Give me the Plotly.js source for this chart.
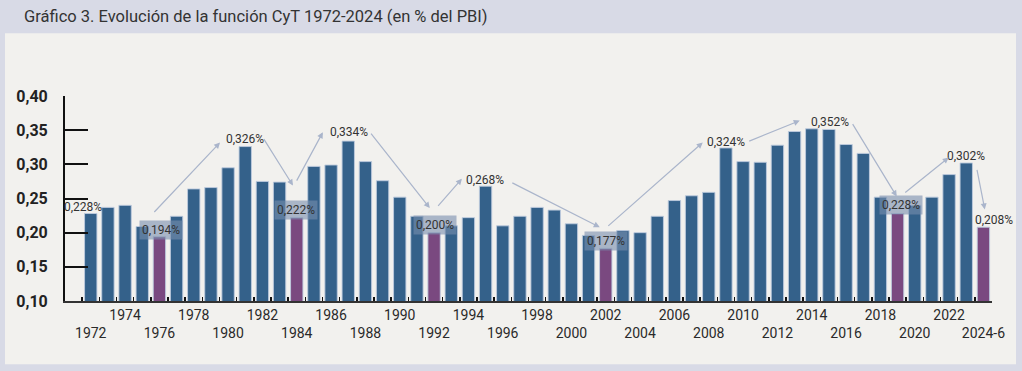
<!DOCTYPE html>
<html>
<head>
<meta charset="utf-8">
<script src="https://cdn.plot.ly/plotly-3.0.1.min.js"></script>
<style>
  html, body { margin: 0; padding: 0; background: #d8dae6; }
  #chart { width: 1022px; height: 371px; }
</style>
</head>
<body>
<div id="chart"></div>
<script>
// ---- data ----
const categories = ["1972","1973","1974","1975","1976","1977","1978","1979","1980","1981",
  "1982","1983","1984","1985","1986","1987","1988","1989","1990","1991",
  "1992","1993","1994","1995","1996","1997","1998","1999","2000","2001",
  "2002","2003","2004","2005","2006","2007","2008","2009","2010","2011",
  "2012","2013","2014","2015","2016","2017","2018","2019","2020","2021",
  "2022","2023","2024-6"];
const values = [0.228,0.237,0.240,0.209,0.194,0.224,0.264,0.266,0.295,0.326,
  0.275,0.274,0.222,0.297,0.299,0.334,0.304,0.276,0.252,0.224,
  0.200,0.210,0.222,0.268,0.210,0.224,0.237,0.233,0.213,0.196,
  0.177,0.203,0.200,0.224,0.247,0.254,0.259,0.324,0.304,0.303,
  0.328,0.348,0.352,0.351,0.329,0.316,0.252,0.228,0.240,0.252,
  0.285,0.302,0.208];
const highlighted = ["1976","1984","1992","2002","2019","2024-6"];
const labelled = ["1972","1976","1981","1984","1987","1992","1995","2002","2009","2014","2019","2023","2024-6"];
const boxedLabels = ["1976","1984","1992","2002","2019"];
const tickLabelYears = ["1972","1974","1976","1978","1980","1982","1984","1986","1988","1990",
  "1992","1994","1996","1998","2000","2002","2004","2006","2008","2010",
  "2012","2014","2016","2018","2020","2022","2024-6"];
const titleText = "Gráfico 3. Evolución de la función CyT 1972-2024 (en % del PBI)";

// ---- placement (annotation positions: [axis x, axis y, pixel x-shift]) ----
const labelPos = [[-0.48,0.2370,0],[4.09,0.2041,0],[8.98,0.3371,0],[11.98,0.2326,0],[15.04,0.3466,0],
  [20.05,0.2114,0],[22.96,0.2765,0],[30.03,0.1880,0],[36.99,0.3320,0],[43.05,0.3613,0],
  [47.18,0.2400,0],[50.97,0.3115,0],[52.0,0.2180,10.5]];
const arrowPos = [
  [[3.62,0.228],[7.53,0.332]],
  [[10.03,0.339],[11.78,0.269]],
  [[11.95,0.274],[13.52,0.347]],
  [[16.26,0.347],[19.75,0.236]],
  [[20.16,0.237],[21.62,0.279]],
  [[24.47,0.274],[29.65,0.208]],
  [[30.06,0.208],[35.65,0.332]],
  [[38.27,0.333],[41.30,0.364]],
  [[44.33,0.361],[46.95,0.253]],
  [[47.36,0.257],[49.98,0.310]],
  [[51.61,0.294],[52.08,0.234]]
];

const FONT = "Roboto, 'Noto Sans', sans-serif";
const BLUE = "#34618a", PURPLE = "#7a4980";
const M = {l: 65, r: 30, t: 96, b: 70};
const W = 1022, H = 371;
const pw = W - M.l - M.r, ph = H - M.t - M.b;
const px2x = p => (p - M.l) / pw;
const py2y = p => (H - M.b - p) / ph;

const colors = categories.map(c => highlighted.includes(c) ? PURPLE : BLUE);

const ticktext = categories.map((c, i) => {
  if (!tickLabelYears.includes(c)) return "";
  const k = tickLabelYears.indexOf(c);
  return (k % 2 === 0) ? "&nbsp;<br>" + c : c;
});

const fmt = v => v.toFixed(3).replace(".", ",") + "%";

const annotations = [];
labelled.forEach((c, k) => {
  const i = categories.indexOf(c);
  const boxed = boxedLabels.includes(c);
  annotations.push({
    x: labelPos[k][0], y: labelPos[k][1], xref: "x", yref: "y", xshift: labelPos[k][2],
    text: fmt(values[i]), showarrow: false,
    xanchor: "center", yanchor: "middle",
    font: {family: FONT, size: 12, color: "#333333"},
    bgcolor: boxed ? "rgba(120,141,173,0.6)" : "rgba(0,0,0,0)",
    borderpad: boxed ? 2 : 0
  });
});
arrowPos.forEach(a => {
  annotations.push({
    x: a[1][0], y: a[1][1], xref: "x", yref: "y",
    ax: a[0][0], ay: a[0][1], axref: "x", ayref: "y",
    text: "", showarrow: true, arrowhead: 2, arrowsize: 1, arrowwidth: 1.2,
    arrowcolor: "#aab5cb", standoff: 0, startstandoff: 0
  });
});

const shapes = [{
  type: "rect", xref: "paper", yref: "paper", layer: "below",
  x0: px2x(5), x1: px2x(1016), y0: py2y(364.3), y1: py2y(33.3),
  fillcolor: "#f2f1ee", line: {width: 0}
}];

const trace = {
  type: "bar", x: categories, y: values,
  marker: {color: colors, line: {color: "rgba(190,203,222,0.9)", width: 1}},
  hoverinfo: "x+y"
};

const layout = {
  width: W, height: H,
  margin: M,
  paper_bgcolor: "#d8dae6",
  plot_bgcolor: "rgba(0,0,0,0)",
  separators: ",.",
  showlegend: false,
  bargap: 0.28,
  font: {family: FONT, color: "#333333"},
  title: {
    text: titleText, xref: "container", yref: "container",
    x: 24 / W, xanchor: "left", y: 1 - 16 / H, yanchor: "middle",
    font: {family: FONT, size: 16.5, color: "#333333"}
  },
  xaxis: {
    type: "category", range: [-1.5, 52.5],
    tickmode: "array", tickvals: categories, ticktext: ticktext,
    tickson: "boundaries", ticks: "inside", ticklen: 4, tickwidth: 1.5, tickcolor: "#111",
    showline: true, linecolor: "#333333", linewidth: 2,
    showgrid: false, zeroline: false, tickangle: 0,
    tickfont: {family: FONT, size: 14, color: "#2a2a2a"},
    fixedrange: true
  },
  yaxis: {
    range: [0.10, 0.40], tickmode: "linear", tick0: 0.10, dtick: 0.05,
    tickformat: ".2f",
    ticks: "inside", ticklen: 23, tickwidth: 2, tickcolor: "#111",
    showline: true, linecolor: "#111", linewidth: 2,
    showgrid: false, zeroline: false,
    ticklabelstandoff: 12,
    tickfont: {family: FONT, size: 16, color: "#222222", weight: "bold"},
    fixedrange: true
  },
  annotations: annotations,
  shapes: shapes
};

Plotly.newPlot("chart", [trace], layout, {displayModeBar: false, staticPlot: true});
</script>
</body>
</html>
